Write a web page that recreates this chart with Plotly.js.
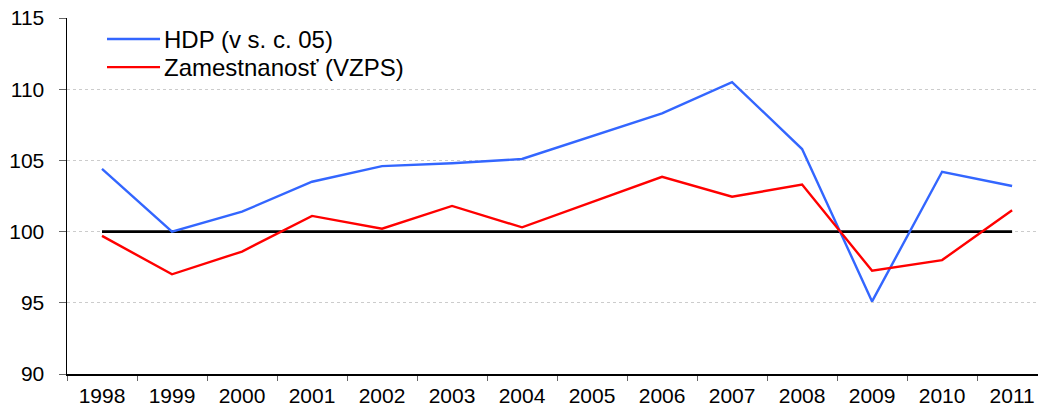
<!DOCTYPE html>
<html><head><meta charset="utf-8">
<script src="https://cdn.plot.ly/plotly-3.0.1.min.js"></script>
<style>html,body{margin:0;padding:0;background:#fff}</style>
</head><body><div id="chart" style="width:1038px;height:410px"></div>
<script>
const years = ['1998','1999','2000','2001','2002','2003','2004','2005','2006','2007','2008','2009','2010','2011'];
const hdp = [104.4,100.0,101.4,103.5,104.6,104.8,105.1,106.7,108.3,110.5,105.8,95.1,104.2,103.2];
const zam = [99.7,97.0,98.6,101.1,100.2,101.8,100.3,102.1,103.85,102.45,103.3,97.25,98.0,101.5];
const base = [100,100,100,100,100,100,100,100,100,100,100,100,100,100];
const names = ['HDP (v s. c. 05)','Zamestnanosť (VZPS)'];
const colors = ['#3366FF','#FF0000'];
const font = {family:'Liberation Sans, Arial, sans-serif', size:21, color:'#000'};
const legFont = {family:'Liberation Sans, Arial, sans-serif', size:24, color:'#000'};

const traces = [
  {x:years,y:base,type:'scatter',mode:'lines',line:{color:'#000',width:2.6},showlegend:false,hoverinfo:'skip'},
  {x:years,y:hdp,type:'scatter',mode:'lines',name:names[0],line:{color:colors[0],width:2.4},showlegend:false},
  {x:years,y:zam,type:'scatter',mode:'lines',name:names[1],line:{color:colors[1],width:2.4},showlegend:false}
];

const legY = [0.941, 0.862];
const shapes = [], annotations = [];
for (let i=0;i<2;i++){
  shapes.push({type:'line',xref:'paper',yref:'paper',x0:0.0412,x1:0.0958,y0:legY[i],y1:legY[i],line:{color:colors[i],width:2.4}});
  annotations.push({xref:'paper',yref:'paper',x:0.0975,y:legY[i],xanchor:'left',yanchor:'middle',text:names[i],showarrow:false,font:legFont});
}

const layout = {
  width:1038,height:410,
  margin:{l:67,r:0,t:18,b:36},
  paper_bgcolor:'#fff',plot_bgcolor:'#fff',
  font:font,
  showlegend:false,
  xaxis:{type:'category',range:[-0.5,13.37],showgrid:false,zeroline:false,
    showline:true,linecolor:'#000',linewidth:1.5,
    ticks:'outside',ticklen:5,tickcolor:'#666',tickson:'boundaries',
    ticklabelstandoff:2,tickfont:font},
  yaxis:{range:[90,115],tickvals:[90,95,100,105,110,115],
    showgrid:true,gridcolor:'#cccccc',griddash:'dot',gridwidth:1,zeroline:false,
    showline:true,linecolor:'#000',linewidth:1.5,
    ticks:'outside',ticklen:7,tickcolor:'#666',ticklabelstandoff:10,tickfont:font},
  shapes:shapes,annotations:annotations
};
Plotly.newPlot('chart',traces,layout,{staticPlot:true,displayModeBar:false});
</script></body></html>
